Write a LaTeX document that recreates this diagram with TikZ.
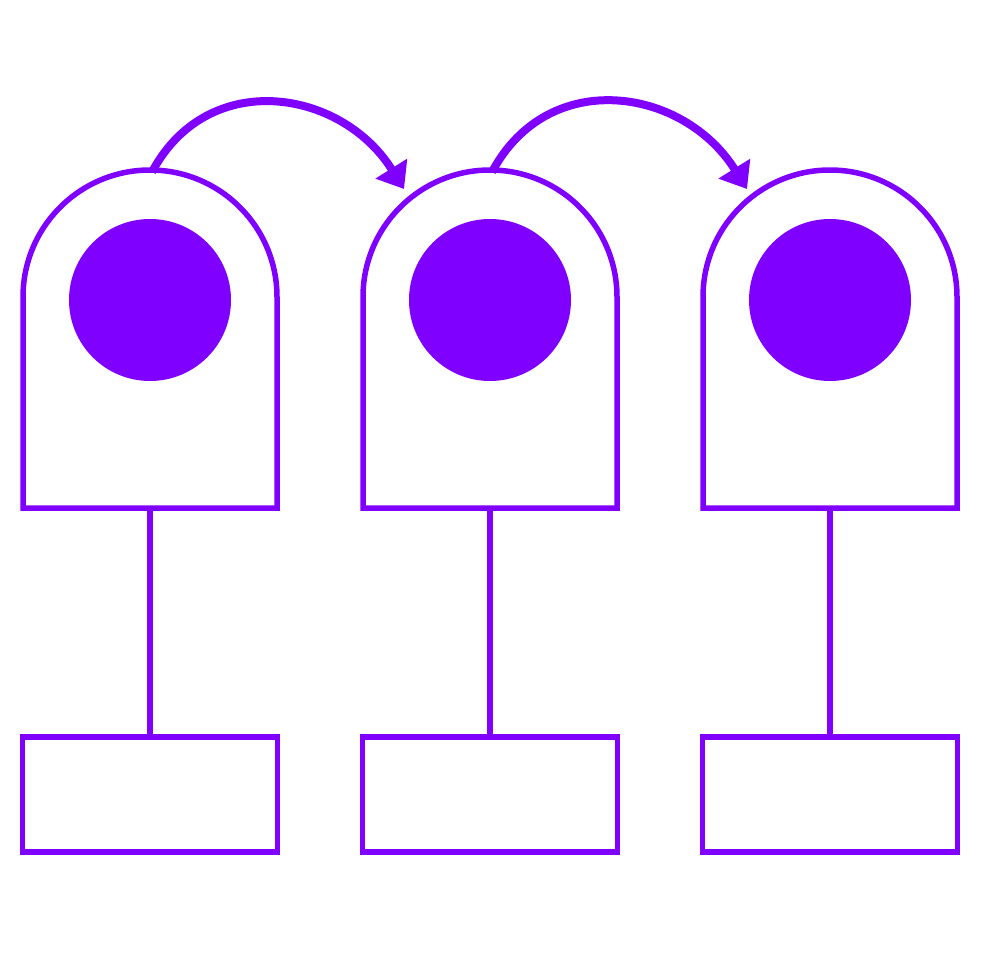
\documentclass[tikz,border=0pt]{standalone}
\usetikzlibrary{arrows.meta}
\definecolor{violetline}{HTML}{7F00FF}
\begin{document}
\begin{tikzpicture}[x=1pt, y=-1pt,
    outline/.style={draw=violetline, line width=5.5pt},
    dot/.style={circle, fill=violetline, minimum size=162pt, inner sep=0pt},
    box/.style={outline, rectangle, minimum width=255pt, minimum height=115pt, inner sep=0pt},
    hop/.style={draw=violetline, line width=8pt, -{Triangle[length=24pt, width=36pt]}},
  ]
  \useasboundingbox (0,0) rectangle (980,980);

  \foreach \i/\x in {1/150, 2/490, 3/830} {
    \draw[outline] (\x-127,508) -- (\x-127,297) arc[start angle=180, end angle=0, radius=127pt] -- (\x+127,508) -- cycle;
    \coordinate (top\i) at (\x+2,172);
    \coordinate (base\i) at (\x,508);
    \node[dot] (dot\i) at (\x,300) {};
    \node[box] (box\i) at (\x,794.5) {};
    \draw[outline] (base\i) -- (box\i.north);
  }

  \coordinate (tip2) at (404,189);
  \coordinate (tip3) at (747,189);

  \draw[hop] (top1) to[out=62, in=122, looseness=1.2] (tip2);
  \draw[hop] (top2) to[out=62, in=122, looseness=1.2] (tip3);
\end{tikzpicture}
\end{document}
